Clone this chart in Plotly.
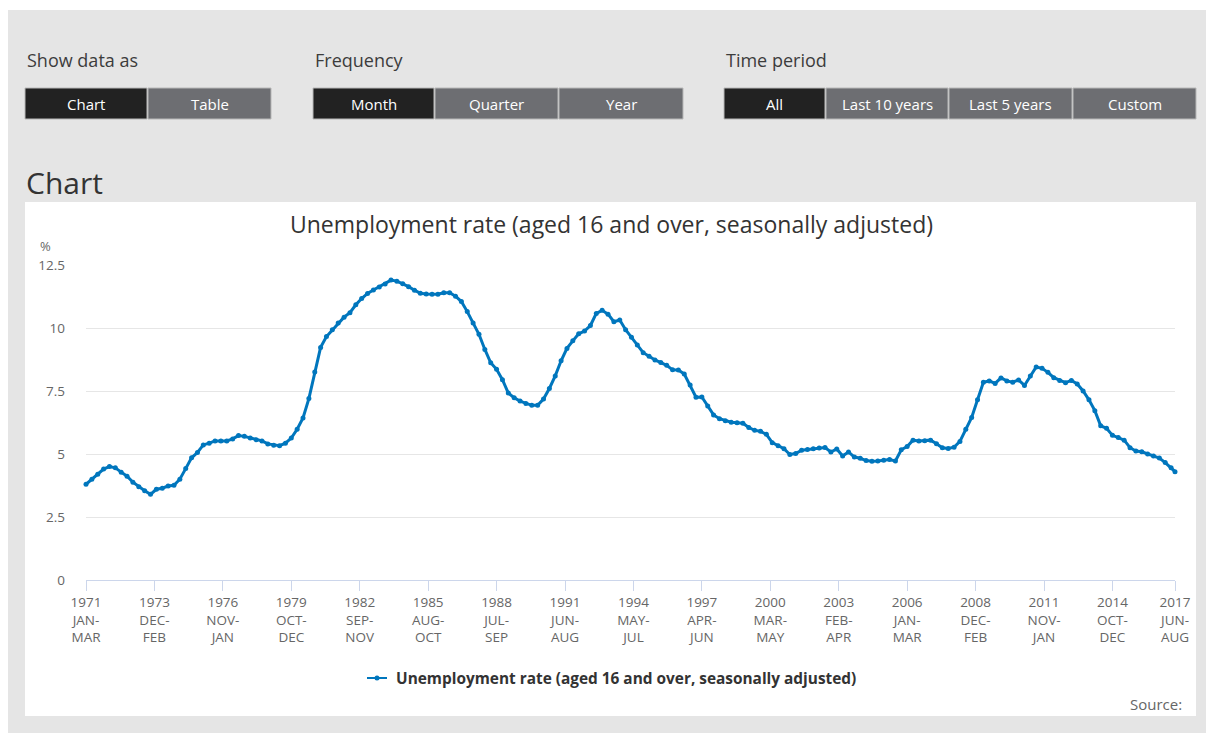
import plotly.graph_objects as go

# ---------------- data ----------------
series_name = "Unemployment rate (aged 16 and over, seasonally adjusted)"
first_year = 1971
month_abbr = ["JAN", "FEB", "MAR", "APR", "MAY", "JUN",
              "JUL", "AUG", "SEP", "OCT", "NOV", "DEC"]

# Rolling three-month periods sampled every quarter (Jan-Mar, Apr-Jun, Jul-Sep, Oct-Dec)
# from 1971 JAN-MAR to 2017 APR-JUN, then the final 2017 JUN-AUG value.
rate_1971_1980 = [3.8, 4.0, 4.2, 4.4, 4.5, 4.45, 4.28, 4.12, 3.88, 3.7, 3.54, 3.4,
                  3.6, 3.64, 3.73, 3.76, 4.0, 4.42, 4.85, 5.06, 5.36, 5.43, 5.52, 5.52,
                  5.52, 5.6, 5.73, 5.7, 5.63, 5.57, 5.52, 5.4, 5.35, 5.33, 5.43, 5.63,
                  5.98, 6.43, 7.2, 8.25]
rate_1981_1990 = [9.23, 9.66, 9.93, 10.2, 10.43, 10.61, 10.92, 11.17, 11.37, 11.51, 11.63, 11.75,
                  11.9, 11.86, 11.76, 11.64, 11.5, 11.38, 11.35, 11.34, 11.34, 11.4, 11.4, 11.26,
                  11.05, 10.65, 10.2, 9.75, 9.15, 8.62, 8.36, 7.95, 7.42, 7.23, 7.1, 7.0,
                  6.93, 6.93, 7.18, 7.6]
rate_1991_2000 = [8.1, 8.7, 9.19, 9.49, 9.77, 9.88, 10.1, 10.58, 10.7, 10.55, 10.25, 10.32,
                  9.93, 9.63, 9.33, 9.02, 8.88, 8.73, 8.63, 8.52, 8.34, 8.33, 8.17, 7.74,
                  7.25, 7.26, 6.9, 6.55, 6.4, 6.32, 6.26, 6.24, 6.22, 6.05, 5.94, 5.9,
                  5.78, 5.45, 5.33, 5.21]
rate_2001_2010 = [4.98, 5.02, 5.15, 5.18, 5.21, 5.24, 5.26, 5.08, 5.2, 4.92, 5.08, 4.88,
                  4.83, 4.74, 4.71, 4.72, 4.75, 4.78, 4.72, 5.17, 5.3, 5.55, 5.52, 5.53,
                  5.55, 5.41, 5.25, 5.22, 5.27, 5.5, 5.98, 6.45, 7.15, 7.85, 7.9, 7.8,
                  8.02, 7.9, 7.85, 7.94]
rate_2011_2017 = [7.72, 8.1, 8.45, 8.4, 8.24, 8.03, 7.92, 7.83, 7.92, 7.78, 7.5, 7.15,
                  6.72, 6.12, 6.02, 5.74, 5.65, 5.55, 5.25, 5.12, 5.09, 5.0, 4.92, 4.84,
                  4.66, 4.45]
rate_latest = [4.3]  # 2017 JUN-AUG

tick_every_months = 35
last_period_index = 557  # 2017 JUN-AUG

rates = rate_1971_1980 + rate_1981_1990 + rate_1991_2000 + rate_2001_2010 + rate_2011_2017 + rate_latest
period_index = list(range(0, 556, 3)) + [last_period_index]


def period_label(i, sep="<br>"):
    y = first_year + i // 12
    return f"{y}{sep}{month_abbr[i % 12]}-{sep}{month_abbr[(i + 2) % 12]}"


tick_vals = list(range(0, last_period_index, tick_every_months)) + [last_period_index]
tick_text = [period_label(i) for i in tick_vals]
hover_text = [period_label(i, " ").replace("- ", "-") for i in period_index]

y_ticks = [0, 2.5, 5, 7.5, 10, 12.5]
y_tick_text = ["0", "2.5", "5", "7.5", "10", "12.5"]

# ---------------- layout helpers ----------------
# The page adds an 8px body margin, so the figure is drawn 8px in and 8px down.
OX, OY = 8, 8
W, H = 1214 - OX, 733 - OY
L, R, T, B = 86, 1175, 265, 580          # plot area in screenshot pixels
FONT = "Open Sans, Noto Sans, sans-serif"
BLUE = "#0076bd"


def px(x):
    return (x - L) / (R - L)


def py(y):
    return (B - y) / (B - T)


fig = go.Figure()
fig.add_trace(go.Scatter(
    x=period_index, y=rates, mode="lines+markers", name=series_name,
    text=hover_text, hovertemplate="%{text}: %{y}%<extra></extra>",
    line=dict(color=BLUE, width=3),
    marker=dict(color=BLUE, size=5),
    cliponaxis=False, showlegend=False,
))

shapes = []
annotations = []

# page background and chart panel
shapes.append(dict(type="rect", xref="paper", yref="paper", x0=px(8), x1=px(1212),
                   y0=py(745), y1=py(10), fillcolor="#e5e5e5", line=dict(width=0), layer="below"))
shapes.append(dict(type="rect", xref="paper", yref="paper", x0=px(25), x1=px(1196),
                   y0=py(716), y1=py(202), fillcolor="#ffffff", line=dict(width=0), layer="below"))

# control groups
groups = [
    ("Show data as", 25, [("Chart", 25, 147, True), ("Table", 148, 271, False)]),
    ("Frequency", 313, [("Month", 313, 434, True), ("Quarter", 435, 558, False),
                        ("Year", 559, 683, False)]),
    ("Time period", 724, [("All", 724, 825, True), ("Last 10 years", 826, 948, False),
                          ("Last 5 years", 949, 1072, False), ("Custom", 1073, 1196, False)]),
]
for label, gx, buttons in groups:
    annotations.append(dict(text=label, x=px(gx), y=py(60), xref="paper", yref="paper",
                            xanchor="left", yanchor="middle", showarrow=False,
                            font=dict(family=FONT, size=18, color="#3c3c3c")))
    for btxt, x0, x1, active in buttons:
        shapes.append(dict(type="rect", xref="paper", yref="paper", x0=px(x0), x1=px(x1),
                           y0=py(119), y1=py(88),
                           fillcolor="#222222" if active else "#6d6e72",
                           line=dict(width=1, color="#b8b8b8"), layer="below"))
        annotations.append(dict(text=btxt, x=px((x0 + x1) / 2), y=py(104), xref="paper", yref="paper",
                                xanchor="center", yanchor="middle", showarrow=False,
                                font=dict(family=FONT, size=15, color="#ffffff")))

# section heading
annotations.append(dict(text="Chart", x=px(24), y=py(182), xref="paper", yref="paper",
                        xanchor="left", yanchor="middle", showarrow=False,
                        font=dict(family=FONT, size=30, color="#333333")))
# chart title
annotations.append(dict(text=series_name, x=px(611), y=py(224), xref="paper", yref="paper",
                        xanchor="center", yanchor="middle", showarrow=False,
                        font=dict(family=FONT, size=23, color="#333333")))
# unit label
annotations.append(dict(text="%", x=px(38), y=py(246), xref="paper", yref="paper",
                        xanchor="left", yanchor="middle", showarrow=False,
                        font=dict(family=FONT, size=13, color="#666666")))
# legend
shapes.append(dict(type="line", xref="paper", yref="paper", x0=px(367), x1=px(387),
                   y0=py(678), y1=py(678), line=dict(color=BLUE, width=2)))
shapes.append(dict(type="circle", xref="paper", yref="paper", x0=px(374.5), x1=px(379.5),
                   y0=py(680.5), y1=py(675.5), fillcolor=BLUE, line=dict(width=0)))
annotations.append(dict(text="<b>" + series_name + "</b>", x=px(394), y=py(678), xref="paper", yref="paper",
                        xanchor="left", yanchor="middle", showarrow=False,
                        font=dict(family=FONT, size=15.4, color="#333333")))
# source
annotations.append(dict(text="Source:", x=px(1184), y=py(704), xref="paper", yref="paper",
                        xanchor="right", yanchor="middle", showarrow=False,
                        font=dict(family=FONT, size=15, color="#666666")))

fig.update_layout(
    width=W, height=H,
    margin=dict(l=L - OX, r=W - (R - OX), t=T - OY, b=H - (B - OY), pad=0),
    paper_bgcolor="#ffffff", plot_bgcolor="rgba(0,0,0,0)",
    font=dict(family=FONT, color="#666666"),
    shapes=shapes, annotations=annotations,
    showlegend=False,
    xaxis=dict(range=[0, last_period_index], tickmode="array", tickvals=tick_vals, ticktext=tick_text,
               ticks="outside", ticklen=10, tickcolor="#ccd6eb", tickwidth=1,
               showline=True, linecolor="#ccd6eb", linewidth=1,
               showgrid=False, zeroline=False, tickangle=0,
               tickfont=dict(family=FONT, size=13.5, color="#666666")),
    yaxis=dict(range=[0, 12.5], tickmode="array", tickvals=y_ticks, ticktext=y_tick_text,
               showgrid=True, gridcolor="#e6e6e6", gridwidth=1, zeroline=False, showline=False,
               ticks="", ticklabelstandoff=20,
               tickfont=dict(family=FONT, size=13.5, color="#666666")),
)

fig.write_html("out.html",
               post_script="document.documentElement.style.overflow='hidden';"
                           "document.body.style.overflow='hidden';")
